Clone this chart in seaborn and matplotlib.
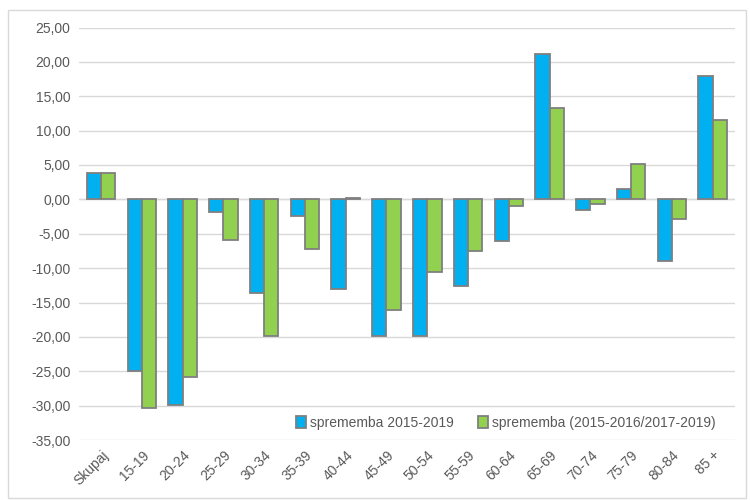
import matplotlib
matplotlib.use('Agg')
import matplotlib.pyplot as plt
import matplotlib.ticker as mticker
import seaborn as sns
import pandas as pd

groups = ['Skupaj', '15-19', '20-24', '25-29', '30-34', '35-39', '40-44', '45-49',
          '50-54', '55-59', '60-64', '65-69', '70-74', '75-79', '80-84', '85 +']
change_2015_2019 = [3.8, -25.0, -29.9, -1.8, -13.6, -2.4, -13.1, -19.8,
                    -19.9, -12.6, -6.1, 21.2, -1.5, 1.5, -8.9, 17.9]
change_split = [3.9, -30.3, -25.9, -5.9, -19.9, -7.2, 0.2, -16.1,
                -10.6, -7.5, -0.9, 13.3, -0.6, 5.1, -2.9, 11.6]
series_names = ['sprememba 2015-2019', 'sprememba (2015-2016/2017-2019)']

df = pd.DataFrame({
    'skupina': groups * 2,
    'vrednost': change_2015_2019 + change_split,
    'serija': [series_names[0]] * len(groups) + [series_names[1]] * len(groups),
})

sns.set_style('white')
plt.rcParams['font.family'] = ['Liberation Sans', 'DejaVu Sans']

fig = plt.figure(figsize=(7.5, 5), dpi=100)
ax = fig.add_axes([0.105, 0.12, 0.875, 0.825])

palette = {series_names[0]: '#00B0F0', series_names[1]: '#92D050'}
sns.barplot(data=df, x='skupina', y='vrednost', hue='serija', palette=palette,
            width=0.7, gap=0, edgecolor='#7F7F7F', linewidth=1.3, ax=ax,
            saturation=1, zorder=3)

ax.set_ylim(-35, 25)
ax.set_yticks(range(-35, 30, 5))
ax.yaxis.set_major_formatter(mticker.FuncFormatter(lambda v, p: f'{v:.2f}'.replace('.', ',')))
ax.grid(axis='y', color='#D9D9D9', linewidth=1, zorder=0)
ax.set_axisbelow(True)
ax.axhline(0, color='#D9D9D9', linewidth=1, zorder=1)
for s in ax.spines.values():
    s.set_visible(False)
ax.set_xlabel('')
ax.set_ylabel('')
ax.set_xlim(-0.55, len(groups) - 0.45)
ax.tick_params(axis='both', length=0, labelsize=10, colors='#595959', pad=6)
plt.setp(ax.get_xticklabels(), rotation=45, ha='right', rotation_mode='anchor')

ax.legend(loc='lower right', bbox_to_anchor=(0.99, -0.005), ncol=2, frameon=False,
          fontsize=10, labelcolor='#595959', handlelength=0.7, handleheight=0.9,
          handletextpad=0.3, columnspacing=1.8)

fig.patches.append(plt.Rectangle((0.01, 0.005), 0.985, 0.975, transform=fig.transFigure,
                                 fill=False, edgecolor='#D9D9D9', linewidth=1))

fig.savefig('out.png', dpi=100)
